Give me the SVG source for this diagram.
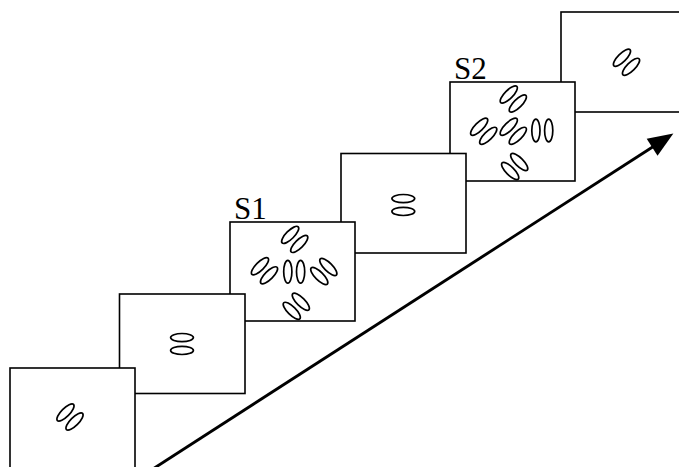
<svg xmlns="http://www.w3.org/2000/svg" width="679" height="467" viewBox="0 0 679 467">
  <style>
    .card { fill: #ffffff; stroke: #000000; stroke-width: 1.6; }
    .blob { fill: none; stroke: #000000; stroke-width: 1.7; }
    .label { font-family: "Liberation Serif", "Times New Roman", serif; font-size: 31px; fill: #000000; }
    .timeline { fill: none; stroke: #000000; stroke-width: 2.9; }
  </style>
  <defs>
    <!-- two flat ellipses side by side; rotated per placement -->
    <g id="pair">
      <ellipse class="blob" cx="0" cy="-6.4" rx="11.4" ry="4.1"/>
      <ellipse class="blob" cx="0" cy="6.4" rx="11.4" ry="4.1"/>
    </g>
    <marker id="head" markerUnits="userSpaceOnUse" markerWidth="26" markerHeight="20" viewBox="0 0 24 19" refX="8" refY="9.5" orient="auto" overflow="visible">
      <path d="M0,0 L24,9.5 L0,19 Z" fill="#000000"/>
    </marker>
  </defs>

  <!-- cards are stacked so that each lower card sits on top of the next one up -->
  <g id="card6">
    <rect class="card" x="561" y="12" width="125" height="100"/>
    <use href="#pair" transform="translate(626.5,62.3) rotate(-45)"/>
  </g>

  <g id="card5">
    <rect class="card" x="450" y="82" width="125" height="99"/>
    <text class="label" x="454" y="78.5">S2</text>
    <use href="#pair" transform="translate(513.3,99) rotate(-45)"/>
    <use href="#pair" transform="translate(483.7,131.3) rotate(-45)"/>
    <use href="#pair" transform="translate(513.3,131.3) rotate(-45)"/>
    <use href="#pair" transform="translate(542.3,130.5) rotate(90)"/>
    <use href="#pair" transform="translate(514.7,166.5) rotate(45)"/>
  </g>

  <g id="card4">
    <rect class="card" x="341" y="153.5" width="125" height="99.5"/>
    <use href="#pair" transform="translate(403.3,205)"/>
  </g>

  <g id="card3">
    <rect class="card" x="230" y="222" width="125" height="99"/>
    <text class="label" x="234" y="218.5">S1</text>
    <use href="#pair" transform="translate(294.7,239.4) rotate(-45)"/>
    <use href="#pair" transform="translate(264.5,270.8) rotate(-45)"/>
    <use href="#pair" transform="translate(294.2,271.7) rotate(90)"/>
    <use href="#pair" transform="translate(323.8,271.5) rotate(45)"/>
    <use href="#pair" transform="translate(296.3,306.3) rotate(45)"/>
  </g>

  <g id="card2">
    <rect class="card" x="119.5" y="294" width="125.5" height="99.5"/>
    <use href="#pair" transform="translate(182,344)"/>
  </g>

  <g id="card1">
    <rect class="card" x="10" y="368" width="125" height="100"/>
    <use href="#pair" transform="translate(70,417) rotate(-45)"/>
  </g>

  <g id="connectors">
    <line class="timeline" x1="152.1" y1="469.5" x2="659.2" y2="142.7" marker-end="url(#head)"/>
  </g>
</svg>
